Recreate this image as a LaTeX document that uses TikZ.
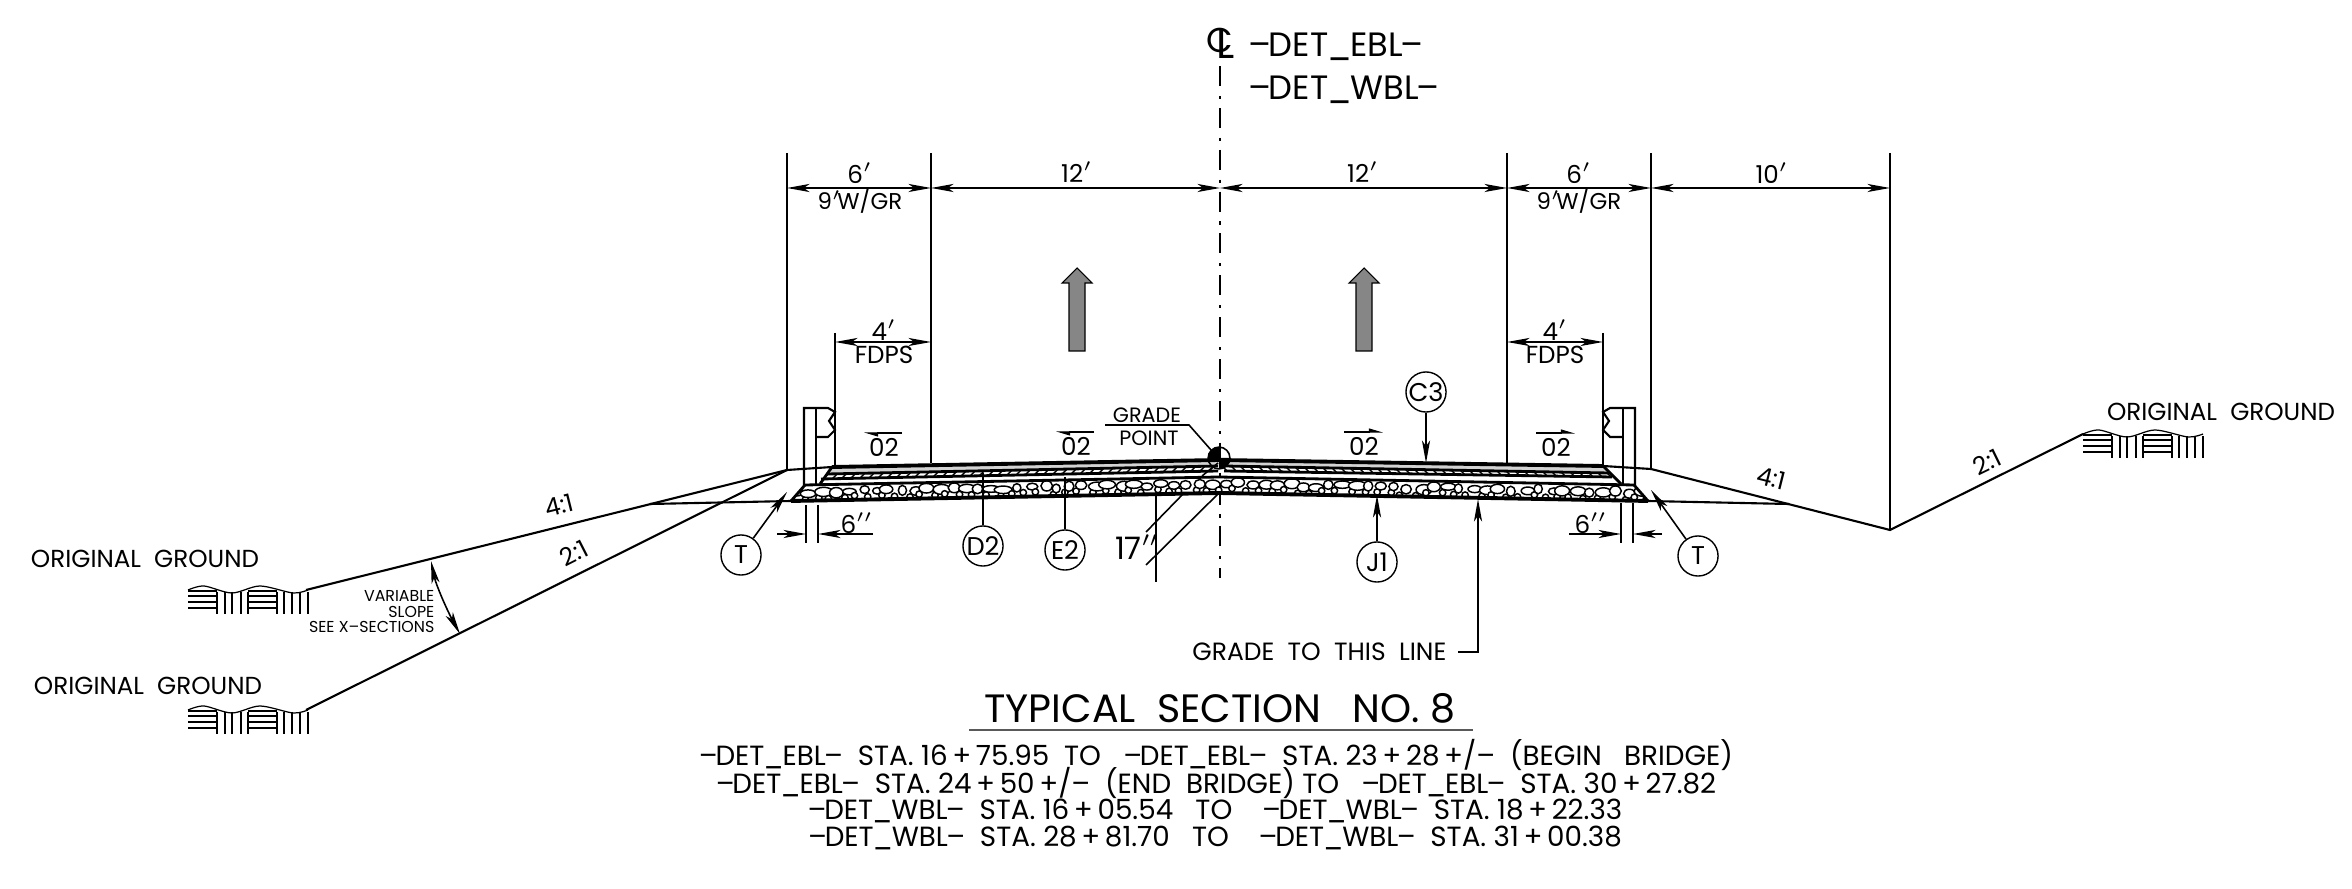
\documentclass[tikz,border=0pt]{standalone}
\usepackage{fontspec}
\setmainfont{Poppins}
\usepackage{xcolor}
\usetikzlibrary{arrows.meta}
\usetikzlibrary{positioning}
\tikzset{>=stealth}
\newcommand{\dett}[1]{–\kern-0.08em DET\kern-0.04em\_\kern-0.04em#1\kern-0.06em –}
\tikzset{
  thinline/.style={draw, line width=0.45pt},
  dimline/.style={thinline, {Stealth[length=6.4pt,width=2.3pt,inset=1.6pt]}-{Stealth[length=6.4pt,width=2.3pt,inset=1.6pt]}},
  leader/.style={thinline, -{Stealth[length=6.4pt,width=2.3pt,inset=1.6pt]}},
  slopearrow/.style={draw, line width=0.3pt, -{Stealth[harpoon,length=3.5pt,width=2pt,inset=0pt]}},
  roadline/.style={draw, line width=0.8pt},
  txt/.style={inner sep=0pt, font=\fontsize{7pt}{8pt}\selectfont},
  linetxt/.style={inner sep=0pt, font=\fontsize{7.9pt}{8pt}\selectfont},
  bigtxt/.style={inner sep=0pt, font=\fontsize{9.6pt}{12pt}\selectfont},
  smalltxt/.style={inner sep=0pt, align=right, font=\fontsize{4.5pt}{4.4pt}\selectfont},
  tag/.style={draw, circle, line width=0.4pt, fill=white, inner sep=0pt, minimum size=11.4pt, font=\fontsize{7.3pt}{8pt}\selectfont},
  trafficarrow/.style={draw, line width=0.3pt, fill=gray!95},
  ogsymbol/.pic={
    \draw[line width=0.35pt] plot[smooth] coordinates {(0,0) (16,-4) (44,3) (72,-4) (105,3) (120,0)};
    \foreach \h in {1,6,12,18} {
      \draw[line width=0.35pt] (0,\h) -- (29,\h);
      \draw[line width=0.35pt] (60,\h) -- (89,\h);
    }
    \foreach \v in {29,37,44,53,60,89,96,104,112,120}
      \draw[line width=0.45pt] (\v,2) -- (\v,24);
  }
}

\begin{document}
\begin{tikzpicture}[x=0.01cm, y=-0.01cm]
    \useasboundingbox (0,0) rectangle (2352,889);
    %% centerline
    \node [font=\fontsize{9.8pt}{10pt}\selectfont, inner sep=0pt] (CLc) at (1220,40) {C};
    \node [font=\fontsize{12pt}{12pt}\selectfont, inner sep=0pt, anchor=base west] (CLl) at (1216,59) {L};
    \coordinate (CLtop) at (1220,66);
    \coordinate (CLbot) at (1220,578);
    \path [draw, line width=0.55pt, dash pattern=on 5.7pt off 2.8pt on 0.9pt off 2.5pt] (CLtop) -- (CLbot);
    \node [bigtxt, anchor=west] (EBL) at (1248,47) {\dett{EBL}};
    \node [bigtxt, anchor=west] (WBL) at (1248,90) {\dett{WBL}};
    %% dimension points
    \foreach \n/\x in {a/787,b/931,c/1220,d/1507,e/1651,f/1890} {
      \coordinate (\n) at (\x,188);
    }
    \coordinate (atop) at (787,153); \coordinate (abot) at (787,470);
    \coordinate (btop) at (931,153); \coordinate (bbot) at (931,463);
    \coordinate (dtop) at (1507,153); \coordinate (dbot) at (1507,464);
    \coordinate (etop) at (1651,153); \coordinate (ebot) at (1651,469);
    \coordinate (ftop) at (1890,153); \coordinate (fbot) at (1890,530);
    \foreach \n in {a,b,d,e,f} {
      \path [thinline] (\n top) -- (\n bot);
    }
    \path [dimline] (a) -- (b);
    \path [dimline] (b) -- (c);
    \path [dimline] (c) -- (d);
    \path [dimline] (d) -- (e);
    \path [dimline] (e) -- (f);
    \node [txt] (w1) at (860,173) {6$^\prime$};
    \node [txt] (w1b) at (860,201) {\fontsize{6.5pt}{8pt}\selectfont 9$^\prime$\kern-1.2pt W/GR};
    \node [txt] (w2) at (1077,172) {12$^\prime$};
    \node [txt] (w3) at (1363,172) {12$^\prime$};
    \node [txt] (w4) at (1579,173) {6$^\prime$};
    \node [txt] (w4b) at (1579,201) {\fontsize{6.5pt}{8pt}\selectfont 9$^\prime$\kern-1.2pt W/GR};
    \node [txt] (w5) at (1772,173) {10$^\prime$};
    %% sidewalk dims
    \coordinate (gtop) at (835,333); \coordinate (gbot) at (835,466);
    \coordinate (htop) at (1603,333); \coordinate (hbot) at (1603,466);
    \path [thinline] (gtop) -- (gbot);
    \path [thinline] (htop) -- (hbot);
    \coordinate (g) at (835,342); \coordinate (g2) at (931,342);
    \coordinate (h) at (1603,342); \coordinate (h2) at (1507,342);
    \path [dimline] (g) -- (g2);
    \path [dimline] (h2) -- (h);
    \node [txt] (fp1) at (884,330) {4$^\prime$};
    \node [txt] (fp1b) at (884,355) {FDPS};
    \node [txt] (fp2) at (1555,330) {4$^\prime$};
    \node [txt] (fp2b) at (1555,355) {FDPS};
    %% traffic arrows
    \foreach \x in {1077,1364} {
      \path [trafficarrow] (\x,268) -- (\x+15,283) -- (\x+8,283) -- (\x+8,351) -- (\x-8,351) -- (\x-8,283) -- (\x-15,283) -- cycle;
    }
    %% pavement
    \path [fill=gray!35] (832,467) -- (1219,460) -- (1603,466) -- (1609,473) -- (1219,464.5) -- (827,474) -- cycle;
    \begin{scope}
      \clip (805,485) -- (1219,476.5) -- (1634,485) -- (1648,501) -- (1219,493) -- (791,501) -- cycle;
      \pgfmathsetseed{23}
      \foreach \x in {788,801,...,1650} {
        \pgfmathsetmacro{\ya}{482+0.0205*abs(\x-1219)+rnd*4}
        \pgfmathsetmacro{\ra}{4+rnd*5}
        \pgfmathsetmacro{\rb}{3.2+rnd*2}
        \draw [line width=0.42pt, fill=white] (\x+rnd*6,\ya+6) circle [radius=3.2];
        \draw [line width=0.42pt, fill=white] (\x+7+rnd*5,\ya) ellipse [x radius=\ra, y radius=\rb];
      }
    \end{scope}
    \begin{scope}
      \clip (827,474) -- (1214,466) -- (1218,466) -- (1218,471) -- (821,479) -- cycle;
      \foreach \x in {800,809,...,1220} {
        \draw [line width=0.4pt] (\x,484) -- (\x+20,464);
      }
    \end{scope}
    \begin{scope}
      \clip (1224,466) -- (1609,473) -- (1612,477) -- (1224,471) -- cycle;
      \foreach \x in {1220,1229,...,1620} {
        \draw [line width=0.4pt] (\x,464) -- (\x+20,484);
      }
    \end{scope}
    \path [draw, line width=1.1pt] (832,467) -- (1219,460) -- (1603,466);
    \path [roadline] (827,474) -- (1218,466) (1224,466) -- (1609,473);
    \path [roadline] (821,479) -- (1218,471) (1224,471) -- (1612,477);
    \path [roadline] (805,485) -- (1219,477) -- (1634,485);
    \path [draw, line width=1.1pt] (791,501) -- (1219,493) -- (1648,501);
    \path [roadline] (832,467) -- (820,484);
    \path [roadline] (1603,466) -- (1621,484);
    \path [roadline] (805,485) -- (791,501);
    \path [roadline] (1634,485) -- (1648,501);
    %% guardrails
    \path [draw, line width=0.6pt] (804,485) -- (804,408) -- (828,408) -- (835,412) -- (829,421) -- (835,430) -- (828,437) -- (816,437);
    \path [draw, line width=0.6pt] (816,408) -- (816,485);
    \path [draw, line width=0.6pt] (1635,485) -- (1635,408) -- (1610,408) -- (1603,412) -- (1609,421) -- (1603,430) -- (1610,437) -- (1623,437);
    \path [draw, line width=0.6pt] (1623,408) -- (1623,485);
    %% slopes
    \coordinate (shl) at (787,470);
    \coordinate (shr) at (1651,469);
    \coordinate (ogl1) at (306,590);
    \coordinate (ogl2) at (306,710);
    \coordinate (ogr) at (2083,434);
    \coordinate (kl) at (650,504);
    \coordinate (kr) at (1789,504);
    \path [draw, line width=0.6pt] (ogl1) -- (shl) -- (832,467);
    \path [draw, line width=0.6pt] (ogl2) -- (shl);
    \path [draw, line width=0.6pt] (kl) -- (791,501);
    \path [draw, line width=0.6pt] (1603,466) -- (shr) -- (fbot) -- (ogr);
    \path [draw, line width=0.6pt] (1648,501) -- (kr);
    \pic at (188,590) {ogsymbol};
    \pic at (188,710) {ogsymbol};
    \pic at (ogr) {ogsymbol};
    \node [txt] (og1) at (145,559) {ORIGINAL\ \ GROUND};
    \node [txt] (og2) at (148,686) {ORIGINAL\ \ GROUND};
    \node [txt] (og3) at (2221,412) {ORIGINAL\ \ GROUND};
    \node [txt, rotate=14] (s1) at (559,505) {4:1};
    \node [txt, rotate=27] (s2) at (574,553) {2:1};
    \node [txt, rotate=-14] (s3) at (1771,478) {4:1};
    \node [txt, rotate=26] (s4) at (1987,462) {2:1};
    \node [smalltxt, anchor=east] (vs) at (435,612) {VARIABLE\\SLOPE\\SEE X--SECTIONS};
    \coordinate (vs1) at (431,561);
    \coordinate (vs2) at (460,634);
    \draw [dimline] (vs1) .. controls (436,585) and (447,610) .. (vs2);
    %% grade point
    \path [thinline] (1219,458) circle [radius=3.1pt];
    \path [fill=black] (1219,458) -- ++(-3.1pt,0) arc [start angle=180, end angle=90, radius=3.1pt] -- cycle;
    \path [fill=black] (1219,458) -- ++(3.1pt,0) arc [start angle=0, end angle=-90, radius=3.1pt] -- cycle;
    \node [txt, font=\fontsize{5.9pt}{6pt}\selectfont] (gp1) at (1147,415) {GRADE};
    \node [txt, font=\fontsize{5.9pt}{6pt}\selectfont] (gp2) at (1149,438) {POINT};
    \coordinate (gpa) at (1105,425);
    \coordinate (gpb) at (1189,425);
    \coordinate (gpc) at (1211,450);
    \path [thinline] (gpa) -- (gpb) -- (gpc);
    %% slope arrows
    \foreach \xa/\xb/\ya [count=\i] in {902/864/433,1094/1056/432,1344/1383/432,1536/1575/433} {
      \coordinate (sa\i) at (\xa,\ya);
      \coordinate (sb\i) at (\xb,\ya);
      \path [slopearrow] (sa\i) -- (sb\i);
    }
    \node [txt] (p1) at (884,447) {02};
    \node [txt] (p2) at (1076,446) {02};
    \node [txt] (p3) at (1364,446) {02};
    \node [txt] (p4) at (1556,447) {02};
    %% callouts
    \node [tag] (T1) at (741,555) {T};
    \node [tag] (D2) at (983,546) {D2};
    \node [tag] (E2) at (1065,550) {E2};
    \node [tag] (C3) at (1426,392) {C3};
    \node [tag] (J1) at (1377,562) {J1};
    \node [tag] (T2) at (1698,556) {T};
    \coordinate (T1e) at (787,492);
    \coordinate (D2e) at (983,473);
    \coordinate (E2e) at (1065,477);
    \coordinate (C3e) at (1426,463);
    \coordinate (J1e) at (1377,495);
    \coordinate (T2e) at (1651,490);
    \path [leader] (T1) -- (T1e);
    \path [thinline] (D2) -- (D2e);
    \path [thinline] (E2) -- (E2e);
    \path [leader] (C3) -- (C3e);
    \path [leader] (J1) -- (J1e);
    \path [leader] (T2) -- (T2e);
    %% thickness dims
    \coordinate (t1a) at (806,505); \coordinate (t1b) at (806,543);
    \coordinate (t2a) at (818,505); \coordinate (t2b) at (818,543);
    \coordinate (t3a) at (1621,503); \coordinate (t3b) at (1621,543);
    \coordinate (t4a) at (1633,503); \coordinate (t4b) at (1633,543);
    \path [thinline] (t1a) -- (t1b);
    \path [thinline] (t2a) -- (t2b);
    \path [thinline] (t3a) -- (t3b);
    \path [thinline] (t4a) -- (t4b);
    \coordinate (t1) at (806,534); \coordinate (t1l) at (777,534);
    \coordinate (t2) at (818,534); \coordinate (t2r) at (873,534);
    \coordinate (t3) at (1621,534); \coordinate (t3l) at (1569,534);
    \coordinate (t4) at (1633,534); \coordinate (t4r) at (1662,534);
    \path [leader] (t1l) -- (t1);
    \path [leader] (t2r) -- (t2);
    \path [leader] (t3l) -- (t3);
    \path [leader] (t4r) -- (t4);
    \node [txt] (six1) at (857,523) {6$^{\prime\prime}$};
    \node [txt] (six2) at (1591,523) {6$^{\prime\prime}$};
    %% 17 inch
    \node [inner sep=0pt, font=\fontsize{8.8pt}{9pt}\selectfont] (seventeen) at (1137,547) {17$^{\prime\prime}$};
    \coordinate (q1) at (1156,496); \coordinate (q2) at (1156,582);
    \coordinate (q3) at (1146,532); \coordinate (q4) at (1184,493);
    \coordinate (q5) at (1146,565); \coordinate (q6) at (1219,493);
    \coordinate (q7) at (1202,476); \coordinate (q8) at (1218,463);
    \path [thinline] (q1) -- (q2);
    \path [thinline] (q3) -- (q4);
    \path [thinline] (q5) -- (q6);
    \path [thinline] (q7) -- (q8);
    %% grade line
    \node [txt, anchor=east, font=\fontsize{7.1pt}{8pt}\selectfont] (gl) at (1447,652) {GRADE\ \ TO\ \ THIS\ \ LINE};
    \coordinate (gla) at (1458,652); \coordinate (glb) at (1478,652); \coordinate (glc) at (1478,499);
    \path [leader] (gla) -- (glb) -- (glc);
    %% title
    \node [inner sep=0pt, font=\fontsize{11.25pt}{12pt}\selectfont] (title) at (1220,708) {TYPICAL\ \ SECTION\ \ \ NO. 8};
    \coordinate (ula) at (969,730); \coordinate (ulb) at (1473,730);
    \path [draw, line width=0.55pt, gray!70!black] (ula) -- (ulb);
    \node [linetxt] (l1) at (1216,755) {\dett{EBL}\ \ STA. 16\,+\,75.95\ \ TO\ \ \ \dett{EBL}\ \ STA. 23\,+\,28\,+/–\ \ (BEGIN\ \ \ BRIDGE)};
    \node [linetxt] (l2) at (1216,783) {\dett{EBL}\ \ STA. 24\,+\,50\,+/–\ \ (END\ \ BRIDGE) TO\ \ \ \dett{EBL}\ \ STA. 30\,+\,27.82};
    \node [linetxt] (l3) at (1215,811) {\dett{WBL}\ \ STA. 16\,+\,05.54\ \ \ TO\ \ \ \ \dett{WBL}\ \ STA. 18\,+\,22.33};
    \node [linetxt] (l4) at (1215,838) {\dett{WBL}\ \ STA. 28\,+\,81.70\ \ \ TO\ \ \ \ \dett{WBL}\ \ STA. 31\,+\,00.38};
  \end{tikzpicture}
\end{document}
